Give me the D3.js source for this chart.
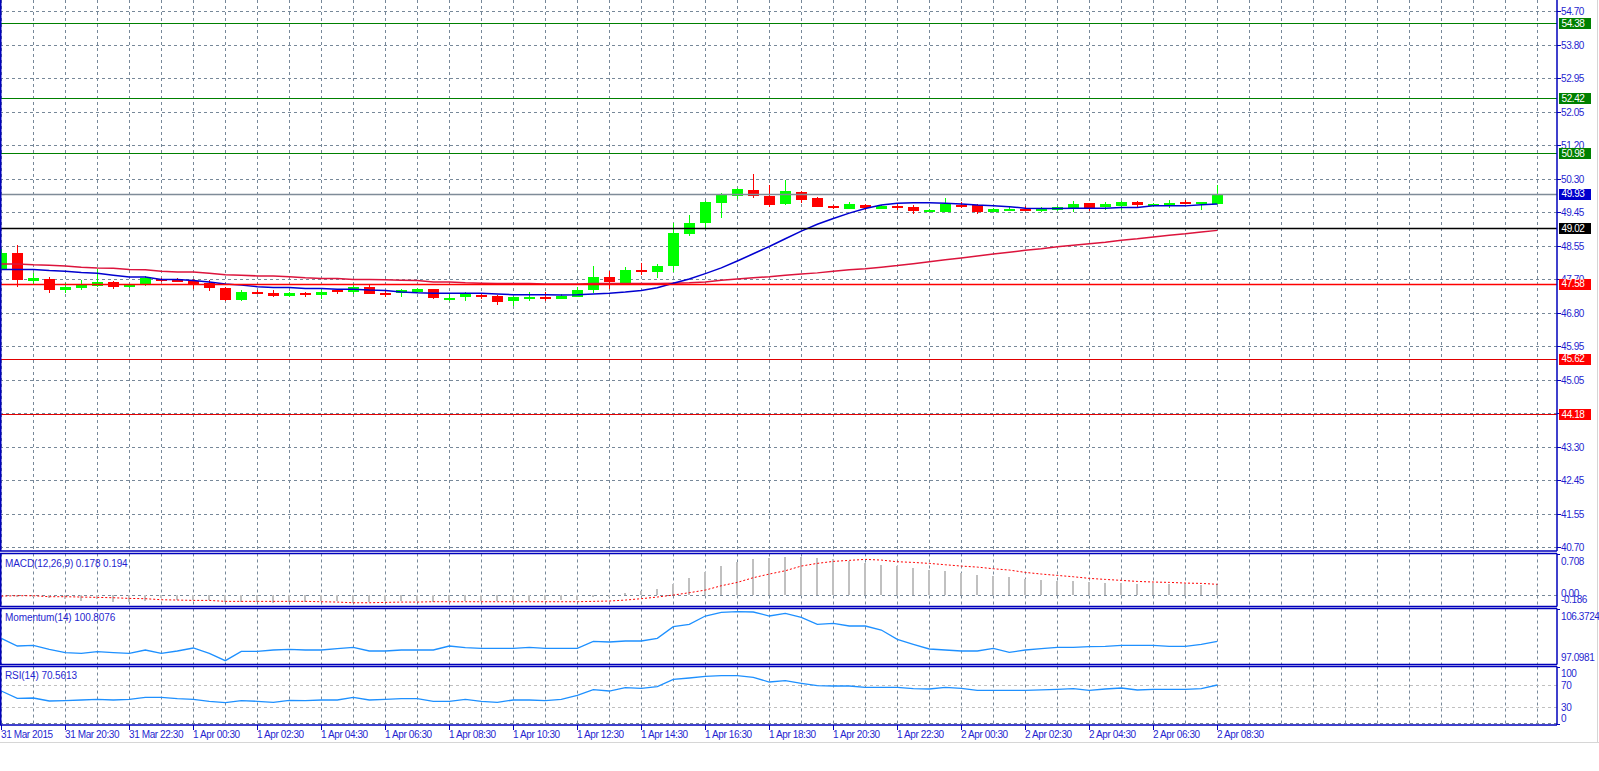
<!DOCTYPE html>
<html>
<head>
<meta charset="utf-8">
<script src="https://cdn.jsdelivr.net/npm/d3@7"></script>
<style>
body { margin: 0; background: #fff; }
svg { display: block; font-family: "Liberation Sans", Arial, sans-serif; font-size: 10px; letter-spacing: -0.4px; }
</style>
</head>
<body>
<svg width="1599" height="771"></svg>
<script>
// M30 bars, 31 Mar 2015 18:30 .. 2 Apr 2015 08:30
var timeLabels = ["31 Mar 2015", "31 Mar 20:30", "31 Mar 22:30", "1 Apr 00:30", "1 Apr 02:30", "1 Apr 04:30",
  "1 Apr 06:30", "1 Apr 08:30", "1 Apr 10:30", "1 Apr 12:30", "1 Apr 14:30", "1 Apr 16:30", "1 Apr 18:30",
  "1 Apr 20:30", "1 Apr 22:30", "2 Apr 00:30", "2 Apr 02:30", "2 Apr 04:30", "2 Apr 06:30", "2 Apr 08:30"];

var open = [47.95, 48.39, 47.66, 47.69, 47.41, 47.47, 47.52, 47.62, 47.53, 47.55,
  47.70, 47.69, 47.66, 47.59, 47.47, 47.15, 47.37, 47.33, 47.26, 47.34,
  47.29, 47.40, 47.36, 47.48, 47.34, 47.31, 47.36, 47.44, 47.18, 47.22,
  47.28, 47.26, 47.11, 47.22, 47.23, 47.18, 47.24, 47.41, 47.75, 47.61,
  47.94, 47.89, 48.05, 48.88, 49.16, 49.69, 49.88, 50.03, 49.87, 49.66,
  49.97, 49.82, 49.61, 49.54, 49.64, 49.54, 49.61, 49.58, 49.47, 49.46,
  49.63, 49.63, 49.46, 49.52, 49.54, 49.50, 49.50, 49.55, 49.69, 49.57,
  49.61, 49.71, 49.61, 49.64, 49.71, 49.66, 49.68];
var high = [48.49, 48.60, 47.85, 47.76, 47.59, 47.67, 47.97, 47.66, 47.57, 47.78,
  47.73, 47.72, 47.70, 47.67, 47.50, 47.41, 47.41, 47.41, 47.37, 47.36,
  47.43, 47.43, 47.57, 47.55, 47.40, 47.43, 47.46, 47.45, 47.32, 47.35,
  47.34, 47.27, 47.25, 47.35, 47.36, 47.30, 47.50, 48.04, 47.91, 48.02,
  48.13, 48.10, 49.16, 49.37, 49.73, 49.94, 50.08, 50.44, 50.16, 50.29,
  49.99, 49.84, 49.63, 49.70, 49.65, 49.62, 49.65, 49.62, 49.54, 49.82,
  49.70, 49.66, 49.55, 49.60, 49.61, 49.59, 49.61, 49.73, 49.69, 49.70,
  49.74, 49.74, 49.68, 49.77, 49.76, 49.71, 50.16];
var low = [47.93, 47.50, 47.57, 47.34, 47.33, 47.41, 47.48, 47.45, 47.47, 47.53,
  47.61, 47.62, 47.45, 47.39, 47.12, 47.13, 47.33, 47.22, 47.22, 47.24,
  47.17, 47.31, 47.31, 47.30, 47.22, 47.22, 47.34, 47.19, 47.12, 47.13,
  47.17, 47.02, 47.00, 47.12, 47.12, 47.17, 47.23, 47.34, 47.45, 47.58,
  47.80, 47.73, 47.88, 48.83, 49.03, 49.30, 49.80, 49.82, 49.57, 49.64,
  49.68, 49.58, 49.52, 49.52, 49.50, 49.53, 49.50, 49.40, 49.45, 49.44,
  49.55, 49.40, 49.44, 49.47, 49.47, 49.46, 49.47, 49.45, 49.47, 49.51,
  49.50, 49.55, 49.58, 49.56, 49.67, 49.50, 49.67];
var close = [48.39, 47.68, 47.73, 47.41, 47.49, 47.54, 47.62, 47.50, 47.55, 47.73,
  47.66, 47.62, 47.59, 47.45, 47.15, 47.36, 47.34, 47.24, 47.34, 47.28,
  47.36, 47.34, 47.48, 47.31, 47.29, 47.40, 47.44, 47.21, 47.20, 47.33,
  47.24, 47.11, 47.22, 47.23, 47.22, 47.26, 47.41, 47.75, 47.62, 47.94,
  47.89, 48.05, 48.90, 49.16, 49.71, 49.90, 50.05, 49.88, 49.64, 50.00,
  49.77, 49.59, 49.56, 49.67, 49.56, 49.61, 49.56, 49.48, 49.50, 49.67,
  49.59, 49.46, 49.53, 49.53, 49.50, 49.54, 49.59, 49.66, 49.55, 49.66,
  49.71, 49.63, 49.66, 49.69, 49.67, 49.71, 49.93];

var maFast = [47.95, 47.95, 47.95, 47.92, 47.90, 47.87, 47.85, 47.80, 47.75, 47.75,
  47.69, 47.69, 47.66, 47.62, 47.57, 47.54, 47.50, 47.48, 47.48, 47.45,
  47.45, 47.43, 47.43, 47.41, 47.40, 47.36, 47.34, 47.33, 47.33, 47.33,
  47.33, 47.31, 47.29, 47.29, 47.29, 47.28, 47.29, 47.31, 47.33, 47.36,
  47.40, 47.47, 47.59, 47.70, 47.84, 47.99, 48.17, 48.36, 48.55, 48.75,
  48.95, 49.13, 49.28, 49.42, 49.54, 49.63, 49.68, 49.69, 49.69, 49.68,
  49.66, 49.63, 49.61, 49.59, 49.55, 49.54, 49.54, 49.55, 49.55, 49.55,
  49.57, 49.57, 49.61, 49.61, 49.61, 49.64, 49.66];
var maSlow = [48.09, 48.09, 48.07, 48.06, 48.04, 48.01, 47.99, 47.98, 47.95, 47.94,
  47.90, 47.88, 47.88, 47.85, 47.81, 47.80, 47.78, 47.78, 47.76, 47.73,
  47.71, 47.71, 47.69, 47.69, 47.68, 47.67, 47.66, 47.62, 47.62, 47.60,
  47.59, 47.58, 47.58, 47.58, 47.57, 47.57, 47.57, 47.58, 47.58, 47.58,
  47.58, 47.58, 47.59, 47.60, 47.62, 47.67, 47.70, 47.73, 47.76, 47.80,
  47.83, 47.86, 47.90, 47.94, 47.97, 48.01, 48.05, 48.10, 48.15, 48.20,
  48.25, 48.30, 48.35, 48.40, 48.45, 48.49, 48.54, 48.58, 48.62, 48.66,
  48.71, 48.75, 48.80, 48.84, 48.88, 48.93, 48.97];

var levels = [54.38, 52.42, 50.98, 49.93, 49.02, 47.58, 45.62, 44.18];
var priceTicks = ["54.70", "53.80", "52.95", "52.05", "51.20", "50.30", "49.45", "48.55", "47.70",
  "46.80", "45.95", "45.05", "44.20", "43.30", "42.45", "41.55", "40.70"];

var macdMain = [-0.010, -0.020, -0.030, -0.041, -0.070, -0.093, -0.058, -0.117, -0.117, -0.099,
  -0.053, -0.088, -0.088, -0.082, -0.123, -0.123, -0.117, -0.140, -0.123, -0.117,
  -0.105, -0.105, -0.129, -0.123, -0.105, -0.105, -0.105, -0.111, -0.105, -0.105,
  -0.099, -0.099, -0.099, -0.099, -0.082, -0.088, -0.082, -0.035, -0.023, 0.047,
  0.082, 0.117, 0.205, 0.310, 0.409, 0.514, 0.590, 0.637, 0.654, 0.672,
  0.678, 0.660, 0.631, 0.600, 0.573, 0.537, 0.514, 0.479, 0.444, 0.427,
  0.391, 0.362, 0.345, 0.321, 0.292, 0.269, 0.257, 0.257, 0.234, 0.216,
  0.216, 0.205, 0.210, 0.193, 0.193, 0.187, 0.178];
var macdSignal = [-0.012, -0.006, -0.006, -0.023, -0.023, -0.029, -0.035, -0.041, -0.053, -0.058,
  -0.076, -0.082, -0.088, -0.088, -0.105, -0.105, -0.105, -0.105, -0.105, -0.105,
  -0.111, -0.117, -0.129, -0.129, -0.123, -0.117, -0.117, -0.111, -0.111, -0.111,
  -0.111, -0.111, -0.111, -0.111, -0.111, -0.111, -0.111, -0.105, -0.099, -0.082,
  -0.058, -0.029, 0.006, 0.047, 0.093, 0.169, 0.228, 0.310, 0.374, 0.432,
  0.514, 0.561, 0.596, 0.614, 0.631, 0.619, 0.590, 0.578, 0.561, 0.537,
  0.514, 0.496, 0.467, 0.444, 0.403, 0.374, 0.350, 0.327, 0.298, 0.280,
  0.263, 0.245, 0.234, 0.228, 0.216, 0.210, 0.194];
var momentum = [101.36, 99.98, 100.10, 99.38, 98.78, 98.66, 98.96, 98.78, 98.66, 99.26,
  98.66, 99.08, 99.62, 98.66, 97.34, 99.02, 99.02, 99.26, 99.38, 99.26,
  99.26, 99.50, 99.74, 99.08, 99.08, 99.26, 99.26, 99.26, 99.98, 99.68,
  99.56, 99.56, 99.56, 99.74, 99.56, 99.56, 99.56, 100.82, 100.70, 100.88,
  100.88, 101.36, 103.46, 103.88, 105.38, 106.04, 106.16, 106.10, 105.38, 105.86,
  105.14, 103.88, 104.06, 103.58, 103.58, 102.86, 101.18, 100.28, 99.44, 99.26,
  99.08, 99.08, 99.56, 98.84, 99.26, 99.50, 99.74, 99.74, 99.86, 99.92,
  100.10, 100.10, 100.10, 99.92, 99.92, 100.28, 100.81];
var rsi = [59.6, 46.4, 46.9, 41.5, 42.1, 43.3, 44.5, 43.3, 44.5, 48.2,
  48.2, 45.6, 44.5, 40.9, 38.4, 42.1, 40.9, 39.1, 42.7, 42.1,
  43.3, 43.3, 48.2, 43.3, 44.5, 45.6, 45.6, 40.9, 40.9, 44.5,
  40.9, 39.1, 43.3, 43.3, 42.1, 44.5, 51.8, 62.0, 59.6, 65.7,
  64.5, 67.5, 80.9, 83.3, 86.3, 87.5, 87.5, 84.5, 76.0, 78.4,
  73.6, 69.3, 68.7, 68.7, 66.3, 66.3, 66.3, 63.9, 63.3, 66.3,
  64.5, 60.9, 60.9, 60.9, 60.9, 61.5, 62.7, 63.9, 60.9, 63.3,
  65.1, 61.5, 62.7, 62.7, 62.7, 63.9, 70.56];

var svg = d3.select("svg"),
    axisX = 1557,
    textCol = "#1f1fcf",
    frameCol = "#0000bb",
    gridCol = "#778899";

var x = d3.scaleLinear().domain([0, close.length - 1]).range([1.3, 1217.3]);
var yMain = d3.scaleLinear().domain([40.70, 54.70]).range([547, 11]);
var yMacd = d3.scaleLinear().domain([-0.186, 0.708]).range([606, 555]);
var yMom = d3.scaleLinear().domain([97.0981, 106.3724]).range([662, 610.5]);
var yRsi = d3.scaleLinear().domain([0, 100]).range([723.8, 668.8]);

var panels = [
  {id: "main", top: 0, bottom: 551},
  {id: "macd", top: 553.5, bottom: 606.5},
  {id: "mom", top: 608.5, bottom: 664.5},
  {id: "rsi", top: 666.5, bottom: 725}
];

var defs = svg.append("defs");
panels.forEach(function(p) {
  defs.append("clipPath").attr("id", "clip-" + p.id)
    .append("rect").attr("x", 1).attr("y", p.top).attr("width", axisX - 1).attr("height", p.bottom - p.top);
});

// window frame
svg.append("line").attr("x1", 0).attr("x2", 1599).attr("y1", 742.5).attr("y2", 742.5)
  .attr("stroke", "#d6d6d6");
svg.append("line").attr("x1", 1597.5).attr("x2", 1597.5).attr("y1", 0).attr("y2", 743)
  .attr("stroke", "#d6d6d6");

// vertical grid in every panel
var vgrid = d3.range(0, 97, 2);
panels.forEach(function(p) {
  svg.append("g").attr("clip-path", "url(#clip-" + p.id + ")")
    .selectAll("line").data(vgrid).enter().append("line")
      .attr("x1", function(d) { return Math.round(x(d)) + 0.5; })
      .attr("x2", function(d) { return Math.round(x(d)) + 0.5; })
      .attr("y1", p.top).attr("y2", p.bottom)
      .attr("stroke", gridCol).attr("stroke-dasharray", "3,3");
});

var main = svg.append("g").attr("clip-path", "url(#clip-main)");

// horizontal price grid
main.append("g").selectAll("line").data(priceTicks).enter().append("line")
    .attr("x1", 0).attr("x2", axisX)
    .attr("y1", function(d) { return Math.round(yMain(+d)) + 0.5; })
    .attr("y2", function(d) { return Math.round(yMain(+d)) + 0.5; })
    .attr("stroke", gridCol).attr("stroke-dasharray", "3,3");

// candles
var bars = main.append("g").attr("shape-rendering", "crispEdges")
  .selectAll("g").data(d3.range(close.length)).enter().append("g")
    .attr("fill", function(i) { return close[i] >= open[i] ? "#00ff00" : "#ff0000"; })
    .attr("stroke", function(i) { return close[i] >= open[i] ? "#00ff00" : "#ff0000"; });

bars.append("line")
    .attr("x1", function(i) { return Math.round(x(i)) + 0.5; })
    .attr("x2", function(i) { return Math.round(x(i)) + 0.5; })
    .attr("y1", function(i) { return yMain(high[i]); })
    .attr("y2", function(i) { return yMain(low[i]); });

bars.append("rect")
    .attr("stroke", "none")
    .attr("x", function(i) { return Math.round(x(i)) - 5; })
    .attr("width", 11)
    .attr("y", function(i) { return Math.round(yMain(Math.max(open[i], close[i]))); })
    .attr("height", function(i) { return Math.max(2, Math.round(Math.abs(yMain(open[i]) - yMain(close[i])))); });

// moving averages
var maLine = d3.line().x(function(d, i) { return x(i); }).y(function(d) { return yMain(d); });
main.append("path").datum(maSlow).attr("d", maLine)
  .attr("fill", "none").attr("stroke", "#dc143c").attr("stroke-width", 1.5);
main.append("path").datum(maFast).attr("d", maLine)
  .attr("fill", "none").attr("stroke", "#0000d0").attr("stroke-width", 1.5);

// horizontal levels
var levelCol = ["#008000", "#008000", "#008000", "#7f8b98", "#000000", "#ff0000", "#e00000", "#e00000"];
var levelW = [1.2, 1.2, 1.2, 1.5, 1.5, 1.5, 1, 1];
var labelCol = ["#008000", "#008000", "#008000", "#0000cd", "#000000", "#ff0000", "#ff0000", "#ff0000"];
main.append("g").selectAll("line").data(levels).enter().append("line")
    .attr("x1", 0).attr("x2", axisX)
    .attr("y1", function(d) { return Math.round(yMain(d)) + 0.5; })
    .attr("y2", function(d) { return Math.round(yMain(d)) + 0.5; })
    .attr("stroke", function(d, i) { return levelCol[i]; })
    .attr("stroke-width", function(d, i) { return levelW[i]; });

// price axis
svg.append("g").selectAll("line").data(priceTicks).enter().append("line")
    .attr("x1", axisX).attr("x2", axisX + 4)
    .attr("y1", function(d) { return Math.round(yMain(+d)) + 0.5; })
    .attr("y2", function(d) { return Math.round(yMain(+d)) + 0.5; })
    .attr("stroke", frameCol);
svg.append("g").selectAll("text").data(priceTicks).enter().append("text")
    .attr("x", axisX + 4)
    .attr("y", function(d) { return yMain(+d) + 3.6; })
    .attr("fill", textCol)
    .text(function(d) { return d; });

var lab = svg.append("g").selectAll("g").data(levels).enter().append("g");
lab.append("rect")
    .attr("x", axisX + 2).attr("width", 32)
    .attr("y", function(d) { return Math.round(yMain(d)) - 5; })
    .attr("height", 11)
    .attr("fill", function(d, i) { return labelCol[i]; });
lab.append("text")
    .attr("x", axisX + 4.5)
    .attr("y", function(d) { return yMain(d) + 3.8; })
    .attr("fill", "#fff")
    .text(function(d) { return d.toFixed(2); });

// MACD
var gm = svg.append("g").attr("clip-path", "url(#clip-macd)");
gm.append("line").attr("x1", 0).attr("x2", axisX)
  .attr("y1", Math.round(yMacd(0)) + 0.5).attr("y2", Math.round(yMacd(0)) + 0.5)
  .attr("stroke", gridCol).attr("stroke-dasharray", "3,3");
gm.append("g").attr("shape-rendering", "crispEdges")
  .selectAll("rect").data(macdMain).enter().append("rect")
    .attr("x", function(d, i) { return Math.round(x(i)) - 1; })
    .attr("width", 2)
    .attr("y", function(d) { return yMacd(Math.max(0, d)); })
    .attr("height", function(d) { return Math.abs(yMacd(d) - yMacd(0)); })
    .attr("fill", "#c0c0c0");
gm.append("path").datum(macdSignal)
  .attr("d", d3.line().x(function(d, i) { return x(i); }).y(function(d) { return yMacd(d); }))
  .attr("fill", "none").attr("stroke", "#ff0000").attr("stroke-width", 1).attr("stroke-dasharray", "2,2");

// Momentum
var gmo = svg.append("g").attr("clip-path", "url(#clip-mom)");
gmo.append("path").datum(momentum)
  .attr("d", d3.line().x(function(d, i) { return x(i); }).y(function(d) { return yMom(d); }))
  .attr("fill", "none").attr("stroke", "#1e90ff").attr("stroke-width", 1.3);

// RSI
var gr = svg.append("g").attr("clip-path", "url(#clip-rsi)");
gr.selectAll("line").data([70, 30]).enter().append("line")
    .attr("x1", 0).attr("x2", axisX)
    .attr("y1", function(d) { return Math.round(yRsi(d)) + 0.5; })
    .attr("y2", function(d) { return Math.round(yRsi(d)) + 0.5; })
    .attr("stroke", "#c0c0c0").attr("stroke-dasharray", "3,3");
gr.append("line").attr("x1", 0).attr("x2", axisX).attr("y1", 723.5).attr("y2", 723.5)
  .attr("stroke", gridCol).attr("stroke-dasharray", "3,3");
gr.append("path").datum(rsi)
  .attr("d", d3.line().x(function(d, i) { return x(i); }).y(function(d) { return yRsi(d); }))
  .attr("fill", "none").attr("stroke", "#1e90ff").attr("stroke-width", 1.3);

// panel frames
panels.forEach(function(p) {
  var f = svg.append("g").attr("fill", "none").attr("stroke", frameCol).attr("stroke-width", 1.5);
  if (p.id != "main") f.append("line").attr("x1", 0).attr("x2", axisX).attr("y1", p.top).attr("y2", p.top);
  f.append("line").attr("x1", 0).attr("x2", axisX).attr("y1", p.bottom).attr("y2", p.bottom);
  f.append("line").attr("x1", 0.75).attr("x2", 0.75).attr("y1", p.top).attr("y2", p.bottom);
  f.append("line").attr("x1", axisX).attr("x2", axisX).attr("y1", p.top).attr("y2", p.bottom);
});

// indicator titles
svg.append("g").attr("fill", textCol).selectAll("text")
  .data([
    {t: "MACD(12,26,9) " + macdMain[macdMain.length - 1].toFixed(3) + " " + macdSignal[macdSignal.length - 1].toFixed(3), y: 566.5},
    {t: "Momentum(14) 100.8076", y: 620.5},
    {t: "RSI(14) 70.5613", y: 679}
  ])
  .enter().append("text")
    .attr("x", 5).attr("y", function(d) { return d.y; })
    .style("letter-spacing", "-0.1px")
    .text(function(d) { return d.t; });

// indicator scales
var sideLabels = [
  {t: "0.708", y: yMacd(0.708) + 6},
  {t: "0.00", y: yMacd(0) - 2},
  {t: "-0.186", y: yMacd(-0.186) - 6.5},
  {t: "106.3724", y: yMom(106.3724) + 5.5},
  {t: "97.0981", y: yMom(97.0981) - 4.5},
  {t: "100", y: yRsi(100) + 5},
  {t: "70", y: yRsi(70)},
  {t: "30", y: yRsi(30)},
  {t: "0", y: yRsi(0) - 5.5}
];
svg.append("g").attr("fill", textCol).selectAll("text").data(sideLabels).enter().append("text")
    .attr("x", axisX + 4)
    .attr("y", function(d) { return d.y + 3.6; })
    .text(function(d) { return d.t; });
svg.append("g").attr("stroke", frameCol).selectAll("line")
  .data([554.5, 609.5, 667.5, 724.5]).enter().append("line")
    .attr("x1", axisX).attr("x2", axisX + 3)
    .attr("y1", function(d) { return d; }).attr("y2", function(d) { return d; });

// time axis
var tIdx = timeLabels.map(function(d, k) { return k * 4; });
svg.append("g").attr("stroke", frameCol).selectAll("line").data(tIdx).enter().append("line")
    .attr("x1", function(d) { return Math.round(x(d)) + 0.5; })
    .attr("x2", function(d) { return Math.round(x(d)) + 0.5; })
    .attr("y1", 725).attr("y2", 730);
svg.append("g").attr("fill", textCol).selectAll("text").data(tIdx).enter().append("text")
    .attr("x", function(d) { return Math.round(x(d)); })
    .attr("y", 737.5)
    .text(function(d, k) { return timeLabels[k]; });
</script>
</body>
</html>
